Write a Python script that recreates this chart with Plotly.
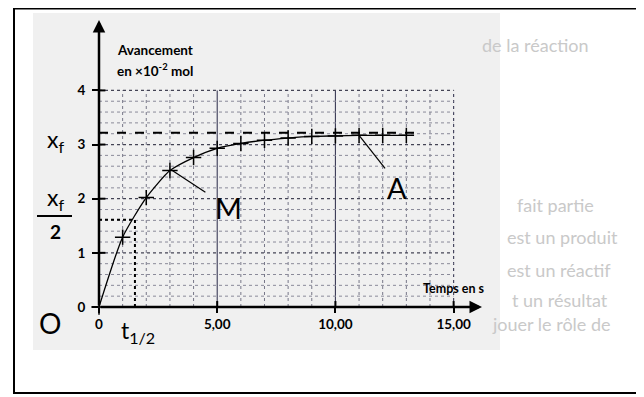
import plotly.graph_objects as go

# ---- data ----
temps = [0, 1, 2, 3, 4, 5, 6, 7, 8, 9, 10, 11, 12, 13]
avancement = [0, 1.29, 2.02, 2.52, 2.76, 2.93, 3.02, 3.08, 3.12, 3.15, 3.16, 3.17, 3.17, 3.17]
x_final = 3.22
t_demi = 1.52
x_ticks = [0, 5, 10, 15]
x_tick_labels = ["0", "5,00", "10,00", "15,00"]
y_ticks = [0, 1, 2, 3, 4]
y_tick_labels = ["0", "1", "2", "3", "4"]
grid_x = list(range(1, 16))
grid_y = [round(0.2 * i, 1) for i in range(1, 21)]
point_M = (3, 2.52)
point_A = (11, 3.17)
ghost_lines = ["de la réaction", "fait partie", "est un produit", "est un réactif",
               "t un résultat", "jouer le rôle de"]

FONT = "Lato"
# plot area in screen pixels (page has an 8px body margin)
PX0, PX1, PY0, PY1 = 99, 482, 20, 307


def px(x):
    return (x - PX0) / (PX1 - PX0)


def py(y):
    return (PY1 - y) / (PY1 - PY0)


fig = go.Figure()

shapes = []
# halftone-like light background of the scanned figure
shapes.append(dict(type="rect", xref="paper", yref="paper", x0=px(33), x1=px(500), y0=py(350), y1=py(13),
                   fillcolor="#f0f0f0", line=dict(width=0), layer="below"))
for gx in grid_x:
    major = gx % 5 == 0
    shapes.append(dict(type="line", xref="x", yref="y", x0=gx, x1=gx, y0=0, y1=4,
                       line=dict(color="#3a3a55" if major else "#777788", width=1.1 if major else 1,
                                 dash="solid" if gx in (5, 10) else "dot"), layer="below"))
for gy in grid_y:
    major = abs(gy - round(gy)) < 1e-6
    shapes.append(dict(type="line", xref="x", yref="y", x0=0, x1=15, y0=gy, y1=gy,
                       line=dict(color="#444455" if major else "#8a8a99", width=1.2 if major else 1,
                                 dash="dot"), layer="below"))
# inner halves of the crossing tick marks
for yt in y_ticks[1:]:
    shapes.append(dict(type="line", xref="x", yref="y", x0=0, x1=0.27, y0=yt, y1=yt,
                       line=dict(color="black", width=2)))
for xt in x_ticks[1:]:
    shapes.append(dict(type="line", xref="x", yref="y", x0=xt, x1=xt, y0=0, y1=0.11,
                       line=dict(color="black", width=2)))
# x_f dashed line
shapes.append(dict(type="line", xref="x", yref="y", x0=0, x1=13.4, y0=x_final, y1=x_final,
                   line=dict(color="black", width=2, dash="dash")))
# half-time dotted lines
shapes.append(dict(type="line", xref="x", yref="y", x0=0, x1=t_demi, y0=x_final / 2, y1=x_final / 2,
                   line=dict(color="black", width=2, dash="dot")))
shapes.append(dict(type="line", xref="x", yref="y", x0=t_demi, x1=t_demi, y0=0, y1=x_final / 2,
                   line=dict(color="black", width=2, dash="dot")))
# pointer lines for M and A
shapes.append(dict(type="line", xref="x", yref="y", x0=point_M[0] + 0.1, x1=4.5, y0=point_M[1], y1=2.12,
                   line=dict(color="black", width=1.2)))
shapes.append(dict(type="line", xref="x", yref="y", x0=point_A[0], x1=12.1, y0=point_A[1], y1=2.56,
                   line=dict(color="black", width=1.2)))
# fraction bar of x_f / 2
shapes.append(dict(type="line", xref="paper", yref="paper", x0=px(37), x1=px(72), y0=py(216), y1=py(216),
                   line=dict(color="black", width=2)))
# outer frame of the scanned page
shapes.append(dict(type="rect", xref="paper", yref="paper", x0=px(14), x1=px(700), y0=py(393), y1=py(8.5),
                   line=dict(color="black", width=2), fillcolor="rgba(0,0,0,0)"))

fig.add_trace(go.Scatter(
    x=temps, y=avancement, mode="lines+markers",
    line=dict(color="black", width=1.3, shape="spline", smoothing=0.6),
    marker=dict(symbol="cross-thin", size=11, line=dict(color="black", width=1.5)),
    cliponaxis=False, showlegend=False, hoverinfo="skip"))

ann = []
# axes with arrows
ann.append(dict(x=16.2, y=0, ax=0, ay=0, xref="x", yref="y", axref="x", ayref="y", text="",
                showarrow=True, arrowhead=2, arrowsize=1, arrowwidth=2.5, arrowcolor="black"))
ann.append(dict(x=0, y=5.3, ax=0, ay=0, xref="x", yref="y", axref="x", ayref="y", text="",
                showarrow=True, arrowhead=2, arrowsize=1, arrowwidth=2.5, arrowcolor="black"))


def txt(x, y, s, size, xanchor="center", color="black", bold=False):
    ann.append(dict(x=px(x), y=py(y), xref="paper", yref="paper", text=s, showarrow=False,
                    xanchor=xanchor, yanchor="middle",
                    font=dict(family=FONT, size=size, color=color, weight="bold" if bold else "normal")))


txt(115, 50, "Avancement", 13.5, xanchor="left", bold=True)
txt(115, 70, "en ×10<sup>-2</sup> mol", 13.5, xanchor="left", bold=True)
txt(454, 288, "Temps en s", 12.5, bold=True)
txt(55, 140, "x<sub>f</sub>", 23)
txt(55, 198, "x<sub>f</sub>", 23)
txt(55, 231, "2", 19, bold=True)
txt(50, 323, "O", 28)
txt(138, 331, "t<sub>1/2</sub>", 23)
txt(228, 208, "M", 29)
txt(397, 187, "A", 29)

# faint bleed-through text from the other side of the page
ghost_pos = [(480, 45), (515, 205), (505, 237), (505, 270), (510, 300), (490, 324)]
for (gx, gy), s in zip(ghost_pos, ghost_lines):
    txt(gx, gy, s, 18, xanchor="left", color="#c9c9c9")

fig.update_layout(
    width=636, height=389,
    margin=dict(l=91, r=162, t=12, b=90),
    paper_bgcolor="white", plot_bgcolor="rgba(0,0,0,0)",
    shapes=shapes, annotations=ann, showlegend=False,
    xaxis=dict(range=[0, 16.2], tickvals=x_ticks, ticktext=x_tick_labels, showgrid=False,
               zeroline=False, showline=False, ticks="outside", ticklen=5, tickwidth=2,
               tickcolor="black", tickfont=dict(family=FONT, size=13.5, color="black", weight="bold")),
    yaxis=dict(range=[0, 5.3], tickvals=y_ticks, ticktext=y_tick_labels, showgrid=False,
               zeroline=False, showline=False, ticks="outside", ticklen=6, tickwidth=2,
               ticklabelstandoff=4,
               tickcolor="black", tickfont=dict(family=FONT, size=13.5, color="black", weight="bold")),
)

fig.write_html("out.html")
